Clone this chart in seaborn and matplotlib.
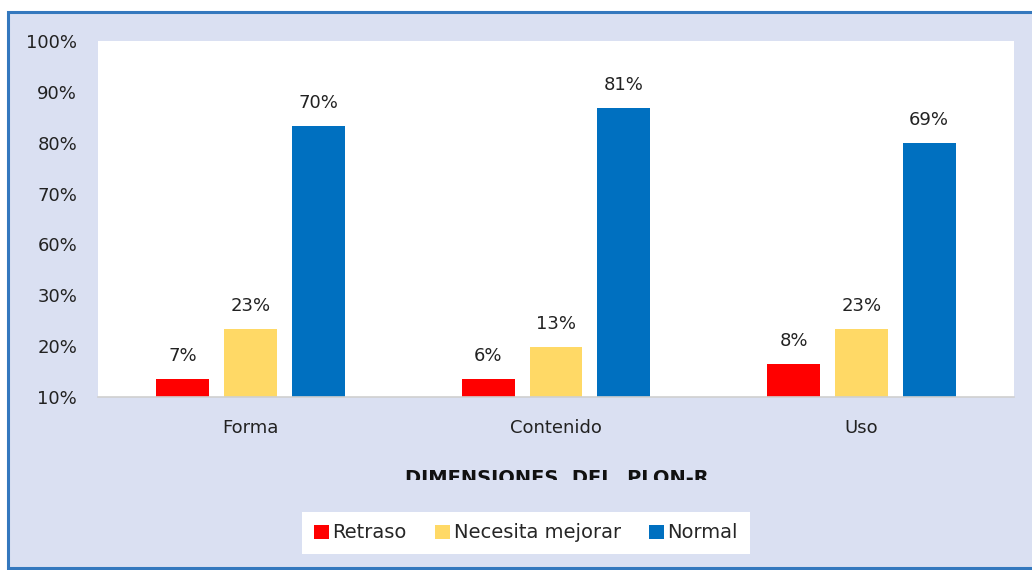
import pandas as pd
import seaborn as sns
import matplotlib.pyplot as plt
from matplotlib.patches import Patch, Rectangle
from matplotlib.transforms import Bbox, TransformedBbox

# --- datos ---
dimensiones = ['Forma', 'Contenido', 'Uso']
niveles = ['Retraso', 'Necesita mejorar', 'Normal']
colores = ['#FF0000', '#FFD966', '#0070C0']

# altura de las barras (en unidades del eje, 10 = una division)
retraso_alt = [3.5, 3.5, 6.5]
mejorar_alt = [13.4, 9.8, 13.4]
normal_alt = [53.3, 56.8, 49.9]

# etiquetas que muestra el grafico sobre cada barra
retraso_pct = [7, 6, 8]
mejorar_pct = [23, 13, 23]
normal_pct = [70, 81, 69]

# etiquetas del eje Y tal como aparecen
ytick_txt = ['10%', '20%', '30%', '60%', '70%', '80%', '90%', '100%']

filas = []
for nivel, alts in zip(niveles, [retraso_alt, mejorar_alt, normal_alt]):
    for dim, a in zip(dimensiones, alts):
        filas.append({'dim': dim, 'nivel': nivel, 'alt': a})
df = pd.DataFrame(filas)

sns.set_style("white")
plt.rcParams['font.family'] = ['DejaVu Sans']

fig = plt.figure(figsize=(10.32, 5.70), dpi=100)
fig.patch.set_facecolor('white')

# marco exterior azul con fondo lavanda
marco = Rectangle((8 / 1032, 2 / 570), 1.2, 556 / 570, transform=fig.transFigure,
                  facecolor='#DAE0F2', edgecolor='#3478BE', linewidth=2.2, zorder=-10)
fig.patches.append(marco)

ax = fig.add_axes([98 / 1032, 173 / 570, 916 / 1032, 356 / 570])
ax.set_zorder(1)
ax.set_facecolor('white')

sns.barplot(data=df, x='dim', y='alt', hue='nivel', hue_order=niveles,
            palette=colores, saturation=1, width=0.666, gap=0.22,
            legend=False, ax=ax, linewidth=0)

ax.set_ylim(0, 70)
ax.set_yticks(range(0, 71, 10))
ax.set_yticklabels(ytick_txt)
ax.set_xlim(-0.5, 2.5)
ax.set_xlabel('')
ax.set_ylabel('')
ax.tick_params(axis='y', length=0, pad=15, labelsize=13, labelcolor='#222222')
ax.tick_params(axis='x', length=0, pad=16, labelsize=13, labelcolor='#222222')
for lado in ['top', 'right', 'left']:
    ax.spines[lado].set_visible(False)
ax.spines['bottom'].set_color('#D0D0D0')
ax.spines['bottom'].set_linewidth(1.2)

for cont, pct in zip(ax.containers, [retraso_pct, mejorar_pct, normal_pct]):
    ax.bar_label(cont, labels=[f'{p}%' for p in pct], padding=10,
                 fontsize=13, color='#222222')

# titulo del eje X, recortado por abajo como en el original
t = fig.text(557 / 1032, 86 / 570, 'DIMENSIONES  DEL  PLON-R', ha='center',
             va='baseline', fontsize=14, fontweight='bold', color='#111111')
t.set_clip_box(TransformedBbox(Bbox([[0, 90 / 570], [1, 1]]), fig.transFigure))
t.set_clip_on(True)

handles = [Patch(facecolor=c, edgecolor='none') for c in colores]
leg = fig.legend(handles, niveles, loc='center', bbox_to_anchor=(526 / 1032, 37 / 570),
                 bbox_transform=fig.transFigure, ncol=3, frameon=True, fancybox=False,
                 facecolor='white', edgecolor='white', framealpha=1, fontsize=14,
                 handlelength=0.75, handleheight=0.75, handletextpad=0.2,
                 columnspacing=1.45, borderpad=0.6, borderaxespad=0)
leg.get_frame().set_linewidth(0)

fig.savefig('out.png', dpi=100)
